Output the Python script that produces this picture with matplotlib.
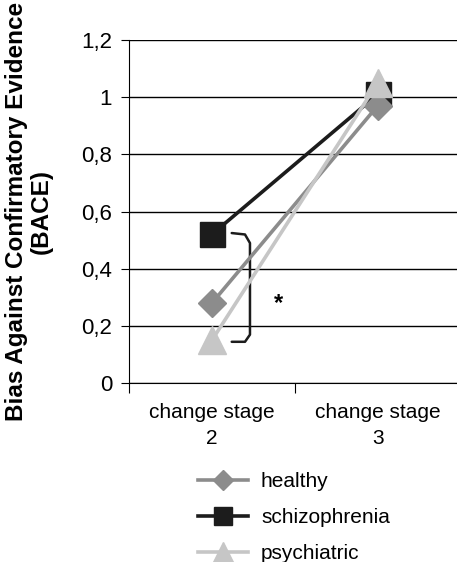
import matplotlib.pyplot as plt

stages = ["change stage\n2", "change stage\n3"]
healthy = [0.28, 0.97]
schizophrenia = [0.52, 1.01]
psychiatric = [0.15, 1.05]
yticks = [0, 0.2, 0.4, 0.6, 0.8, 1.0, 1.2]
ytick_labels = ["0", "0,2", "0,4", "0,6", "0,8", "1", "1,2"]

plt.rcParams["font.family"] = ["Liberation Sans", "DejaVu Sans"]

fig = plt.figure(figsize=(4.57, 5.62), dpi=100)
ax = fig.add_axes([0.282, 0.318, 0.726, 0.611])

x = [1, 2]
ax.plot(x, healthy, color="#8c8c8c", lw=2.6, marker="D", ms=14, label="healthy", zorder=3)
ax.plot(x, schizophrenia, color="#1c1c1c", lw=2.6, marker="s", ms=18, label="schizophrenia", zorder=2)
ax.plot(x, psychiatric, color="#c6c6c6", lw=2.6, marker="^", ms=20, label="psychiatric", zorder=4)

# significance bracket
bx = [1.12, 1.2, 1.23, 1.23, 1.2, 1.12]
by = [0.525, 0.52, 0.49, 0.17, 0.145, 0.145]
ax.plot(bx, by, color="#1c1c1c", lw=1.8, solid_capstyle="round")
ax.text(1.40, 0.28, "*", fontsize=17, fontweight="bold", ha="center", va="center")

ax.set_xlim(0.5, 2.5)
ax.set_ylim(0, 1.2)
ax.set_yticks(yticks)
ax.set_yticklabels(ytick_labels, fontsize=16)
ax.set_xticks([0.5, 1.5, 2.5])
ax.set_xticklabels([])
ax.set_xticks(x, minor=True)
ax.set_xticklabels(stages, minor=True, fontsize=15, linespacing=1.5)
ax.tick_params(axis="x", which="minor", length=0, pad=14)
ax.tick_params(axis="x", which="major", length=7, direction="out")
ax.tick_params(axis="y", length=6, direction="out", pad=6)
ax.grid(axis="y", color="black", lw=1.0)
ax.set_axisbelow(True)
for s in ["top", "right"]:
    ax.spines[s].set_visible(False)

ax.set_ylabel("Bias Against Confirmatory Evidence\n(BACE)", fontsize=17.5,
              fontweight="bold", linespacing=1.15)
ax.yaxis.set_label_coords(-0.228, 0.5)

fig.legend(loc="upper left", bbox_to_anchor=(0.416, 0.175), frameon=False,
           fontsize=15, handlelength=2.4, labelspacing=0.82, handletextpad=0.6,
           borderaxespad=0, markerscale=0.75)

fig.savefig("out.png", dpi=100)
